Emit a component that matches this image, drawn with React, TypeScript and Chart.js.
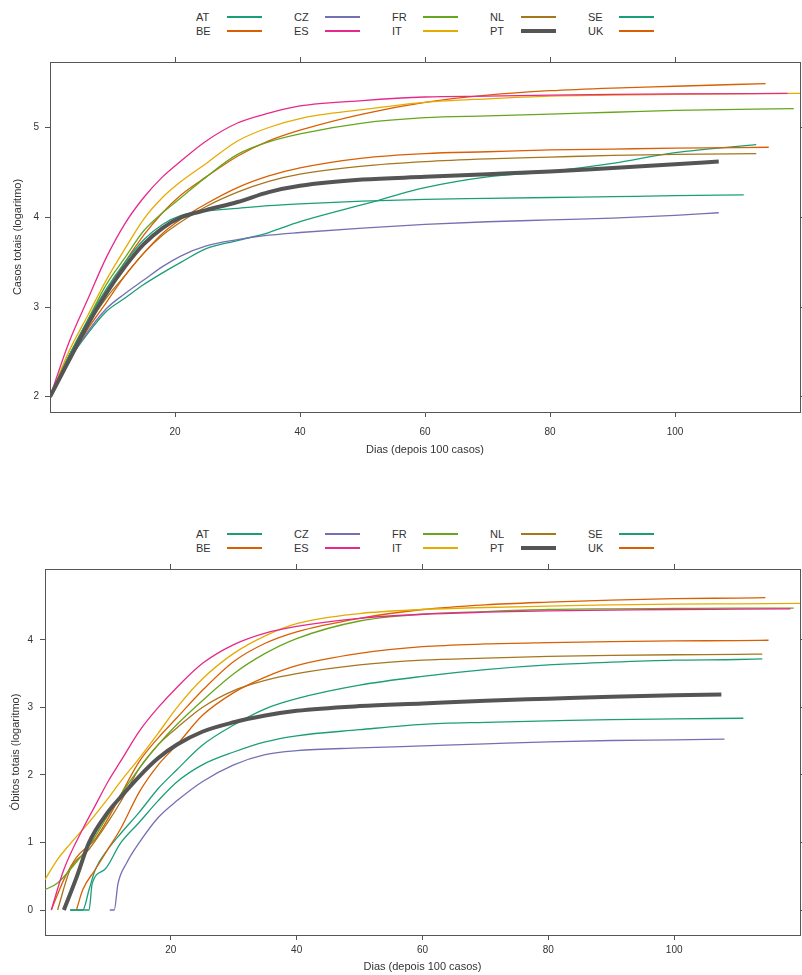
import React, { useEffect, useRef } from 'react';
import { Chart, registerables } from 'chart.js';

Chart.register(...registerables);

// ---------------- data ----------------
const COUNTRIES = ['AT', 'BE', 'CZ', 'ES', 'FR', 'IT', 'NL', 'PT', 'SE', 'UK'];
const COLORS = ['#1B9E77', '#D95F02', '#7570B3', '#E7298A', '#66A61E', '#E6AB02', '#A6761D', '#555555', '#1B9E77', '#D95F02'];

const X_TICKS = [20, 40, 60, 80, 100];
const CASES_Y_TICKS = [2, 3, 4, 5];
const DEATHS_Y_TICKS = [0, 1, 2, 3, 4];

// total cases (log10), sampled on CASES_DAYS, last value at the series' own end day
const CASES_DAYS = [0, 3, 6, 9, 12, 15, 18, 21, 25, 30, 35, 40, 50, 60, 70, 80, 90, 100];
const CASES_END_DAY = [111, 115, 107, 118, 119, 120, 113, 107, 113, 114.5];
const casesAT = [2.0, 2.45, 2.85, 3.2, 3.5, 3.75, 3.92, 4.02, 4.07, 4.1, 4.13, 4.15, 4.18, 4.2, 4.21, 4.22, 4.23, 4.24, 4.25];
const casesBE = [2.0, 2.4, 2.75, 3.05, 3.35, 3.6, 3.82, 3.98, 4.15, 4.33, 4.46, 4.55, 4.66, 4.71, 4.73, 4.75, 4.76, 4.77, 4.78];
const casesCZ = [2.0, 2.4, 2.72, 2.98, 3.15, 3.3, 3.45, 3.57, 3.68, 3.75, 3.8, 3.83, 3.88, 3.92, 3.95, 3.97, 3.99, 4.02, 4.05];
const casesES = [2.0, 2.6, 3.08, 3.55, 3.93, 4.22, 4.45, 4.63, 4.85, 5.05, 5.16, 5.24, 5.3, 5.34, 5.35, 5.36, 5.37, 5.375, 5.38];
const casesFR = [2.0, 2.45, 2.85, 3.25, 3.55, 3.85, 4.05, 4.22, 4.45, 4.7, 4.84, 4.93, 5.05, 5.11, 5.13, 5.15, 5.17, 5.19, 5.21];
const casesIT = [2.0, 2.5, 2.9, 3.3, 3.65, 3.98, 4.22, 4.4, 4.6, 4.85, 5.0, 5.1, 5.2, 5.28, 5.32, 5.35, 5.36, 5.37, 5.38];
const casesNL = [2.0, 2.45, 2.8, 3.1, 3.35, 3.6, 3.8, 3.95, 4.12, 4.28, 4.4, 4.48, 4.57, 4.62, 4.65, 4.67, 4.69, 4.7, 4.71];
const casesPT = [2.0, 2.4, 2.8, 3.15, 3.45, 3.7, 3.88, 4.0, 4.08, 4.17, 4.28, 4.35, 4.42, 4.45, 4.48, 4.51, 4.55, 4.59, 4.62];
const casesSE = [2.0, 2.4, 2.7, 2.95, 3.1, 3.25, 3.38, 3.5, 3.65, 3.74, 3.83, 3.95, 4.14, 4.33, 4.45, 4.51, 4.6, 4.72, 4.81];
const casesUK = [2.0, 2.45, 2.8, 3.15, 3.5, 3.8, 4.05, 4.25, 4.45, 4.68, 4.85, 4.97, 5.15, 5.28, 5.36, 5.41, 5.44, 5.46, 5.49];
const CASES = [casesAT, casesBE, casesCZ, casesES, casesFR, casesIT, casesNL, casesPT, casesSE, casesUK];

// total deaths (log10), each with its own day list
const deathsDaysAT = [4, 7, 7.5, 9.5, 12, 15, 18, 21, 25, 30, 35, 40, 50, 60, 70, 80, 90, 100, 111];
const deathsAT = [0, 0, 0.39, 0.6, 0.99, 1.3, 1.62, 1.9, 2.15, 2.34, 2.49, 2.58, 2.67, 2.75, 2.78, 2.8, 2.82, 2.83, 2.84];
const deathsDaysBE = [5, 6, 8, 10, 12, 15, 18, 21, 25, 30, 35, 40, 50, 60, 70, 80, 90, 100, 110, 115];
const deathsBE = [0, 0.3, 0.6, 0.9, 1.2, 1.75, 2.15, 2.45, 2.88, 3.22, 3.45, 3.62, 3.8, 3.9, 3.94, 3.96, 3.975, 3.985, 3.99, 3.995];
const deathsDaysCZ = [10.3, 11, 11.6, 13, 15, 18, 21, 25, 30, 35, 40, 50, 60, 70, 80, 90, 100, 108];
const deathsCZ = [0, 0, 0.39, 0.7, 1.0, 1.37, 1.62, 1.9, 2.15, 2.3, 2.36, 2.4, 2.43, 2.46, 2.49, 2.51, 2.52, 2.53];
const deathsDaysES = [1, 3, 6, 8, 10, 12, 15, 18, 21, 25, 30, 35, 40, 50, 60, 70, 80, 90, 100, 110, 118.5];
const deathsES = [0, 0.6, 1.2, 1.55, 1.9, 2.2, 2.65, 3.0, 3.3, 3.65, 3.93, 4.1, 4.2, 4.32, 4.38, 4.41, 4.43, 4.44, 4.45, 4.455, 4.46];
const deathsDaysFR = [0, 2, 4, 7, 10, 12, 15, 18, 21, 25, 30, 35, 40, 50, 60, 70, 80, 90, 100, 110, 119];
const deathsFR = [0.3, 0.4, 0.6, 0.95, 1.4, 1.7, 2.1, 2.45, 2.75, 3.1, 3.5, 3.8, 4.02, 4.28, 4.38, 4.42, 4.45, 4.46, 4.465, 4.47, 4.47];
const deathsDaysIT = [0, 2, 4, 7, 10, 12, 15, 18, 21, 25, 30, 35, 40, 50, 60, 70, 80, 90, 100, 110, 120];
const deathsIT = [0.45, 0.75, 0.98, 1.3, 1.65, 1.9, 2.25, 2.62, 3.0, 3.42, 3.8, 4.06, 4.24, 4.39, 4.45, 4.48, 4.5, 4.52, 4.53, 4.535, 4.54];
const deathsDaysNL = [2, 4, 7, 10, 12, 15, 18, 21, 25, 30, 35, 40, 50, 60, 70, 80, 90, 100, 110, 114];
const deathsNL = [0, 0.6, 0.9, 1.3, 1.6, 2.1, 2.45, 2.7, 3.0, 3.25, 3.4, 3.5, 3.63, 3.7, 3.73, 3.755, 3.77, 3.78, 3.785, 3.79];
const deathsDaysPT = [3, 5, 7, 10, 12, 15, 18, 21, 25, 30, 35, 40, 50, 60, 70, 80, 90, 100, 107.5];
const deathsPT = [0, 0.48, 1.0, 1.45, 1.67, 1.98, 2.25, 2.45, 2.64, 2.78, 2.88, 2.95, 3.02, 3.06, 3.1, 3.13, 3.16, 3.18, 3.19];
const deathsDaysSE = [4, 6, 7, 8, 10, 12, 15, 18, 21, 25, 30, 35, 40, 50, 60, 70, 80, 90, 100, 110, 114];
const deathsSE = [0, 0, 0.3, 0.6, 0.9, 1.13, 1.45, 1.8, 2.08, 2.44, 2.74, 2.98, 3.13, 3.33, 3.46, 3.56, 3.63, 3.67, 3.7, 3.71, 3.72];
const deathsDaysUK = [1, 3, 5, 8, 10, 12, 15, 18, 21, 25, 30, 35, 40, 50, 60, 70, 80, 90, 100, 110, 114.5];
const deathsUK = [0, 0.45, 0.78, 1.05, 1.35, 1.7, 2.2, 2.55, 2.85, 3.25, 3.68, 3.95, 4.12, 4.32, 4.45, 4.52, 4.56, 4.59, 4.61, 4.62, 4.625];
const DEATH_DAYS = [deathsDaysAT, deathsDaysBE, deathsDaysCZ, deathsDaysES, deathsDaysFR, deathsDaysIT, deathsDaysNL, deathsDaysPT, deathsDaysSE, deathsDaysUK];
const DEATHS = [deathsAT, deathsBE, deathsCZ, deathsES, deathsFR, deathsIT, deathsNL, deathsPT, deathsSE, deathsUK];

// ---------------- styling ----------------
const FONT = "'Liberation Sans', Arial, Helvetica, sans-serif";
const TEXT = '#333333';
const AXIS = '#555555';
const lineWidth = (c: string) => (c === 'PT' ? 4 : 1.3);

Chart.defaults.font.family = FONT;
Chart.defaults.color = TEXT;

type PanelCfg = {
  top: number;
  height: number;
  yTitle: string;
  yMin: number;
  yMax: number;
  yTicks: number[];
  leftW: number;
  topH: number;
  bottomH: number;
  yTitlePad: number;
  yTickPad: number;
  xTickPad: number;
  xTitlePad: number;
  series: { x: number; y: number }[][];
};

function buildScales(cfg: PanelCfg) {
  const grid = { drawOnChartArea: false, drawTicks: true, tickLength: 5, color: AXIS, lineWidth: 1 };
  const border = { display: true, color: AXIS, width: 1 };
  const setX = (s: any) => { s.ticks = X_TICKS.map((v) => ({ value: v })); };
  const setY = (s: any) => { s.ticks = cfg.yTicks.map((v) => ({ value: v })); };
  return {
    x: {
      type: 'linear', position: 'bottom', min: 0, max: 120,
      afterBuildTicks: setX,
      grid, border,
      ticks: { font: { size: 10 }, color: TEXT, padding: cfg.xTickPad, maxRotation: 0, autoSkip: false },
      title: { display: true, text: 'Dias (depois 100 casos)', font: { size: 11 }, color: TEXT, padding: { top: 0, bottom: cfg.xTitlePad } },
      afterFit: (s: any) => { s.height = cfg.bottomH; },
    },
    xTop: {
      type: 'linear', position: 'top', min: 0, max: 120,
      afterBuildTicks: setX,
      grid, border,
      ticks: { display: false },
      afterFit: (s: any) => { s.height = cfg.topH; },
    },
    y: {
      type: 'linear', position: 'left', min: cfg.yMin, max: cfg.yMax,
      afterBuildTicks: setY,
      grid, border,
      ticks: { font: { size: 10 }, color: TEXT, padding: cfg.yTickPad },
      title: { display: true, text: cfg.yTitle, font: { size: 11 }, color: TEXT, padding: { top: cfg.yTitlePad, bottom: 0 } },
      afterFit: (s: any) => { s.width = cfg.leftW; },
    },
    yRight: {
      type: 'linear', position: 'right', min: cfg.yMin, max: cfg.yMax,
      afterBuildTicks: setY,
      grid, border,
      ticks: { display: false },
      afterFit: (s: any) => { s.width = 2; },
    },
  };
}

function Panel({ cfg }: { cfg: PanelCfg }) {
  const ref = useRef<HTMLCanvasElement | null>(null);
  useEffect(() => {
    if (!ref.current) return;
    const datasets = COUNTRIES.map((c, i) => ({
      label: c,
      data: cfg.series[i],
      borderColor: COLORS[i],
      backgroundColor: COLORS[i],
      borderWidth: lineWidth(c),
      pointRadius: 0,
      cubicInterpolationMode: 'monotone',
      fill: false,
      order: c === 'PT' ? -1 : i,
      xAxisID: 'x',
      yAxisID: 'y',
    }));
    const chart = new Chart(ref.current, {
      type: 'line',
      data: { datasets } as any,
      options: {
        animation: false,
        responsive: false,
        maintainAspectRatio: false,
        layout: { padding: 0 },
        plugins: { legend: { display: false }, tooltip: { enabled: false } },
        scales: buildScales(cfg) as any,
      },
    });
    return () => chart.destroy();
  }, [cfg]);
  return (
    <canvas
      ref={ref}
      width={802}
      height={cfg.height}
      style={{ position: 'absolute', left: 0, top: cfg.top, width: 802, height: cfg.height }}
    />
  );
}

function Legend({ top }: { top: number }) {
  const colX = [196, 294, 392, 490, 588];
  const items: React.ReactNode[] = [];
  COUNTRIES.forEach((c, i) => {
    const col = Math.floor(i / 2);
    const row = i % 2;
    const y = top + row * 14;
    items.push(
      <div
        key={c + 't'}
        style={{ position: 'absolute', left: colX[col], top: y - 7, height: 14, lineHeight: '14px', fontSize: 11, fontFamily: FONT, color: TEXT }}
      >
        {c}
      </div>
    );
    const w = lineWidth(c);
    items.push(
      <div
        key={c + 'l'}
        style={{ position: 'absolute', left: colX[col] + 31, top: y - w / 2, width: 35, height: w, background: COLORS[i] }}
      />
    );
  });
  return <>{items}</>;
}

const casesSeries = CASES.map((vals, i) =>
  vals.map((v, j) => ({ x: j < CASES_DAYS.length ? CASES_DAYS[j] : CASES_END_DAY[i], y: v }))
);
const deathsSeries = DEATHS.map((vals, i) => vals.map((v, j) => ({ x: DEATH_DAYS[i][j], y: v })));

const CASES_CFG: PanelCfg = {
  top: 40, height: 430,
  yTitle: 'Casos totais (logaritmo)',
  yMin: 1.83, yMax: 5.73, yTicks: CASES_Y_TICKS,
  leftW: 50, topH: 22, bottomH: 58,
  yTitlePad: 11, yTickPad: 6, xTickPad: 9, xTitlePad: 13,
  series: casesSeries,
};

const DEATHS_CFG: PanelCfg = {
  top: 545, height: 430,
  yTitle: 'Óbitos totais (logaritmo)',
  yMin: -0.37, yMax: 5.05, yTicks: DEATHS_Y_TICKS,
  leftW: 45, topH: 24, bottomH: 40,
  yTitlePad: 9, yTickPad: 7, xTickPad: 4, xTitlePad: 1,
  series: deathsSeries,
};

export default function App() {
  return (
    <div style={{ position: 'absolute', left: 0, top: 0, width: 802, height: 975, background: '#ffffff', overflow: 'hidden' }}>
      <Legend top={17} />
      <Panel cfg={CASES_CFG} />
      <Legend top={534} />
      <Panel cfg={DEATHS_CFG} />
    </div>
  );
}
